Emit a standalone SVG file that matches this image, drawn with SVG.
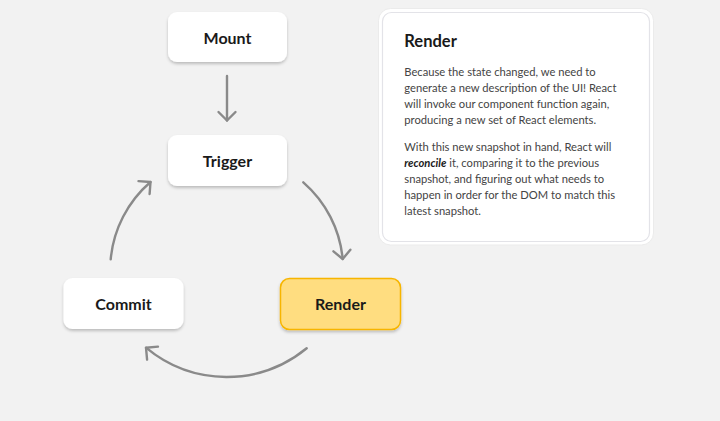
<svg xmlns="http://www.w3.org/2000/svg" width="720" height="421" viewBox="0 0 720 421">
<defs>
<filter id="sh" x="-20%" y="-20%" width="140%" height="160%">
<feDropShadow dx="0" dy="2" stdDeviation="1.5" flood-color="#000" flood-opacity="0.22"/>
</filter>
<marker id="ah" markerUnits="userSpaceOnUse" markerWidth="24" markerHeight="24" refX="12" refY="12" orient="auto" viewBox="0 0 24 24">
<path d="M 3.5 3.5 L 12 12 L 3.5 20.5" fill="none" stroke="#8a8a8a" stroke-width="2.4" stroke-linecap="round" stroke-linejoin="round"/>
</marker>
<style>
.node{fill:#ffffff;filter:url(#sh)}
.hl{fill:#ffdd80;stroke:#f7b500;stroke-width:1.5}
.lbl{font-family:"Lato","Liberation Sans",sans-serif;font-weight:700;font-size:16px;fill:#1a1a1a;text-anchor:middle}
.con{fill:none;stroke:#8a8a8a;stroke-width:2.4;stroke-linecap:round;marker-end:url(#ah)}
.body{font-family:"Lato","Liberation Sans",sans-serif;font-size:11.2px;fill:#444444}
.title{font-family:"Lato","Liberation Sans",sans-serif;font-weight:700;font-size:16.5px;fill:#1a1a1a}
</style>
</defs>
<rect x="0" y="0" width="720" height="421" fill="#f2f2f2"/>
<g id="connectors">
<path class="con" d="M 227 76 L 227 120.5"/>
<path class="con" d="M 303.3 182.3 A 116 116 0 0 1 342.7 259"/>
<path class="con" d="M 306.7 348.3 A 126 126 0 0 1 146 347.7"/>
<path class="con" d="M 110.7 259.3 A 116 116 0 0 1 150.5 182"/>
</g>
<g id="mount">
<rect class="node" x="168" y="12" width="119" height="50" rx="9"/>
<text class="lbl" x="227.5" y="43.5">Mount</text>
</g>
<g id="trigger">
<rect class="node" x="168" y="135" width="119" height="51" rx="9"/>
<text class="lbl" x="227.5" y="166.7">Trigger</text>
</g>
<g id="commit">
<rect class="node" x="63.5" y="278" width="120" height="51" rx="9"/>
<text class="lbl" x="123.5" y="310">Commit</text>
</g>
<g id="render">
<rect class="node hl" x="280.5" y="278.5" width="120" height="51" rx="9"/>
<text class="lbl" x="340.5" y="310">Render</text>
</g>
<g id="panel">
<rect x="378.5" y="8.5" width="275" height="236.5" rx="12" fill="#ffffff" stroke="#ebebeb" stroke-width="1"/>
<rect x="382.5" y="12.5" width="267" height="229" rx="9" fill="#ffffff" stroke="#e3e3e8" stroke-width="1.2"/>
<text class="title" x="404.3" y="46.7">Render</text>
<text class="body" x="404.3" y="76">Because the state changed, we need to</text>
<text class="body" x="404.3" y="92.2">generate a new description of the UI! React</text>
<text class="body" x="404.3" y="108.3">will invoke our component function again,</text>
<text class="body" x="404.3" y="124.4">producing a new set of React elements.</text>
<text class="body" x="404.3" y="150.7">With this new snapshot in hand, React will</text>
<text class="body" x="404.3" y="166.8"><tspan font-style="italic" font-weight="700" fill="#1a1a1a">reconcile</tspan> it, comparing it to the previous</text>
<text class="body" x="404.3" y="182.9">snapshot, and figuring out what needs to</text>
<text class="body" x="404.3" y="199">happen in order for the DOM to match this</text>
<text class="body" x="404.3" y="215.1">latest snapshot.</text>
</g>
</svg>
